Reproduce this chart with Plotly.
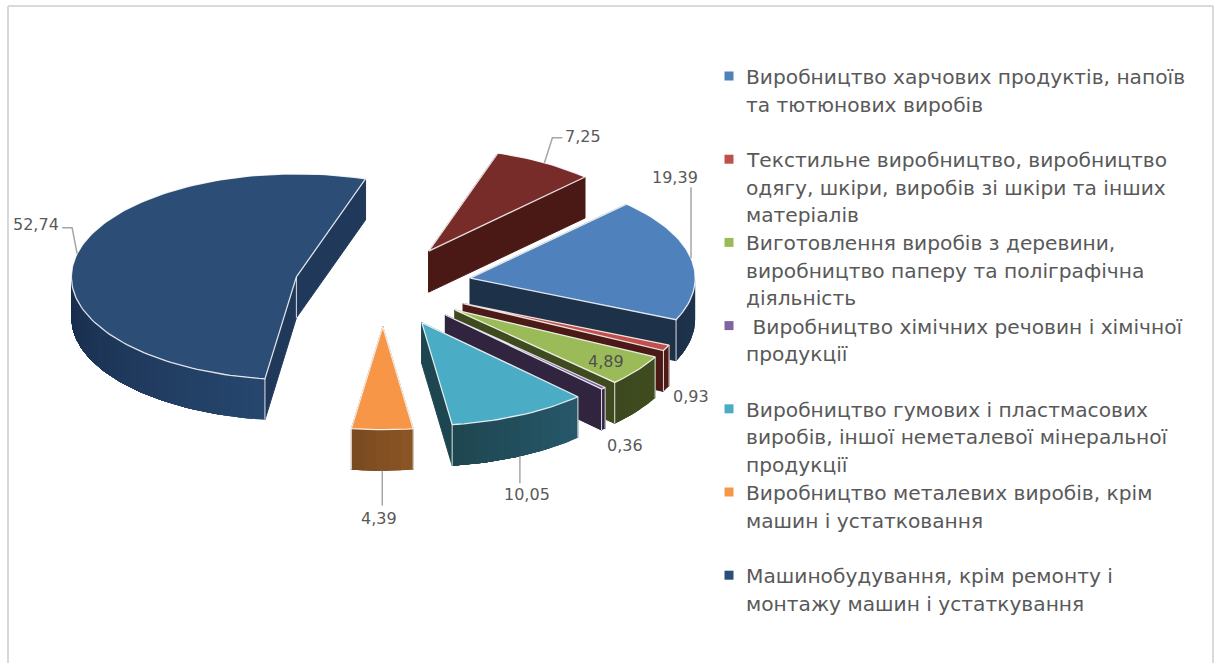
import math
import plotly.graph_objects as go

# ---- data ----
categories = [
    "Виробництво харчових продуктів, напоїв та тютюнових виробів",
    "Текстильне виробництво, виробництво одягу, шкіри, виробів зі шкіри та інших матеріалів",
    "Виготовлення виробів з деревини, виробництво паперу та поліграфічна діяльність",
    "Виробництво хімічних речовин і хімічної продукції",
    "Виробництво гумових і пластмасових виробів, іншої неметалевої мінеральної продукції",
    "Виробництво металевих виробів, крім машин і устатковання",
    "Машинобудування, крім ремонту і монтажу машин і устаткування",
    "Інше",
]
values = [19.39, 0.93, 4.89, 0.36, 10.05, 4.39, 52.74, 7.25]
legend_lines = [
    ["Виробництво харчових продуктів, напоїв", "та тютюнових виробів"],
    ["Текстильне виробництво, виробництво", "одягу, шкіри, виробів зі шкіри та інших", "матеріалів"],
    ["Виготовлення виробів з деревини,", "виробництво паперу та поліграфічна", "діяльність"],
    ["\u00a0Виробництво хімічних речовин і хімічної", "продукції"],
    ["Виробництво гумових і пластмасових", "виробів, іншої неметалевої мінеральної", "продукції"],
    ["Виробництво металевих виробів, крім", "машин і устатковання"],
    ["Машинобудування, крім ремонту і", "монтажу машин і устаткування"],
]

# ---- style ----
top_colors = ["#4f81bd", "#c0504d", "#9bbb59", "#8064a2", "#4bacc6", "#f79646", "#2c4d75", "#772c2a"]
wall_light = ["#1f3550", "#521d1a", "#404c20", "#33274a", "#27586a", "#8c5526", "#26466e", "#4a1916"]
wall_dark = ["#1c3049", "#4b1916", "#3d481e", "#30243d", "#1e4650", "#784a1f", "#182c4a", "#4a1916"]
side_colors = ["#1d3149", "#4b1916", "#3f4a1f", "#30243f", "#1e4650", "#7a4c20", "#20395a", "#4a1916"]
CX, CY, RX, RY, DEPTH, EXPLODE, START = 383.0, 286.0, 225, 103, 41, 0.395, 44
EDGE = "rgba(255,255,255,0.85)"
TEXT = "#595959"
LABEL_FONT = "DejaVu Sans"
LEGEND_FONT = "DejaVu Sans"

fig = go.Figure()


def poly(xs, ys, color, line=None, name=None, width=1):
    fig.add_trace(go.Scatter(
        x=xs, y=ys, mode="lines", fill="toself", fillcolor=color,
        line=dict(color=line or color, width=width), showlegend=False,
        hoverinfo="text" if name else "skip", text=name, name=name or "",
    ))


def mix(a, b, t):
    ca = [int(a[i:i + 2], 16) for i in (1, 3, 5)]
    cb = [int(b[i:i + 2], 16) for i in (1, 3, 5)]
    return "rgb(%d,%d,%d)" % tuple(round(p + (q - p) * t) for p, q in zip(ca, cb))


total = sum(values)
slices = []
acc = 0.0
for i, v in enumerate(values):
    a0 = START + acc / total * 360
    a1 = a0 + v / total * 360
    acc += v
    mid = math.radians((a0 + a1) / 2)
    ax = CX + RX * EXPLODE * math.sin(mid)
    ay = CY - RY * EXPLODE * math.cos(mid)
    slices.append(dict(i=i, a0=a0, a1=a1, mid=mid, ax=ax, ay=ay))


def pt(s, a):
    r = math.radians(a)
    return s["ax"] + RX * math.sin(r), s["ay"] - RY * math.cos(r)


# back to front
for s in sorted(slices, key=lambda q: -math.cos(q["mid"])):
    i = s["i"]
    ax, ay = s["ax"], s["ay"]
    # radial walls
    for a in (s["a0"], s["a1"]):
        x, y = pt(s, a)
        poly([ax, x, x, ax, ax], [ay, y, y + DEPTH, ay + DEPTH, ay], side_colors[i])
    # front part of the outer wall: each band runs to the wall's end, the next one paints over it
    for base in (0, 360):
        lo, hi = max(s["a0"], 90 + base), min(s["a1"], 270 + base)
        if hi <= lo:
            continue
        n = max(1, int((hi - lo) / 3))
        for k in range(n):
            p = lo + (hi - lo) * k / n
            m = max(2, int((hi - p) / 1.5))
            top = [pt(s, p + (hi - p) * j / m) for j in range(m + 1)]
            xs = [c[0] for c in top] + [c[0] for c in reversed(top)]
            ys = [c[1] for c in top] + [c[1] + DEPTH for c in reversed(top)]
            poly(xs, ys, mix(wall_light[i], wall_dark[i], (k + 0.5) / n), width=0)
    # vertical corner highlights
    for a in (s["a0"], s["a1"]):
        if math.cos(math.radians(a)) < 0:
            x, y = pt(s, a)
            fig.add_trace(go.Scatter(x=[x, x], y=[y, y + DEPTH], mode="lines", showlegend=False,
                                     hoverinfo="skip", line=dict(color=EDGE, width=1)))
    if s["a1"] - s["a0"] > 180:
        fig.add_trace(go.Scatter(x=[ax, ax], y=[ay, ay + DEPTH], mode="lines", showlegend=False,
                                 hoverinfo="skip", line=dict(color=EDGE, width=1)))
    # top face
    n = max(2, int((s["a1"] - s["a0"]) / 1.5))
    arc = [pt(s, s["a0"] + (s["a1"] - s["a0"]) * k / n) for k in range(n + 1)]
    poly([ax] + [c[0] for c in arc] + [ax], [ay] + [c[1] for c in arc] + [ay], top_colors[i],
         line=EDGE, name=f"{categories[i]}: {values[i]}", width=1.3)

# data labels and leader lines: offsets from the middle of each slice's outer edge
label_pos = {0: (675, 177), 1: (691, 396), 2: (606, 361), 3: (625, 445),
             4: (527, 494), 5: (379, 518), 6: (36, 224), 7: (583, 136)}
leader_offsets = {0: [(0, 0), (0, -71)], 4: [(0, 0), (0, 27)], 5: [(0, 0), (0, 35)],
                  6: [(0, 0), (-5, -26), (-15, -26)], 7: [(0, 0), (8, -25), (18, -25)]}
for i, off in leader_offsets.items():
    s = slices[i]
    x0, y0 = pt(s, math.degrees(s["mid"]))
    if math.cos(s["mid"]) < 0:
        y0 += DEPTH
    fig.add_trace(go.Scatter(x=[x0 + o[0] for o in off], y=[y0 + o[1] for o in off], mode="lines",
                             showlegend=False, hoverinfo="skip", line=dict(color="#a6a6a6", width=1.5)))

ann = []
for i, v in enumerate(values):
    x, y = label_pos[i]
    ann.append(dict(x=x, y=y, xref="x", yref="y", showarrow=False,
                    text=f"{v:.2f}".replace(".", ","),
                    font=dict(family=LABEL_FONT, size=16, color="#505050" if i == 2 else TEXT)))

# legend
LEG_TOP, LEG_STEP, LINE_H = 77, 83.2, 27.5
for e, lines in enumerate(legend_lines):
    y0 = LEG_TOP + e * LEG_STEP
    fig.add_trace(go.Scatter(x=[729], y=[y0 - 1], mode="markers", showlegend=False,
                             name=categories[e], hoverinfo="name",
                             marker=dict(symbol="square", size=9, color=top_colors[e])))
    for j, line in enumerate(lines):
        ann.append(dict(x=743.5, y=y0 + j * LINE_H, xref="x", yref="y", xanchor="left", yanchor="middle",
                        showarrow=False, text=line, font=dict(family=LEGEND_FONT, size=20.2, color=TEXT)))

frame = [(8, 663, 8, 6), (8, 6, 1213, 6), (1213, 6, 1213, 663)]
shapes = [dict(type="line", xref="x", yref="y", x0=a, y0=b, x1=c, y1=d,
               line=dict(color="#d9d9d9", width=2), layer="below") for a, b, c, d in frame]

fig.update_layout(
    width=1216, height=663, margin=dict(l=0, r=0, t=0, b=0), autosize=False,
    paper_bgcolor="white", plot_bgcolor="white", showlegend=False,
    xaxis=dict(range=[0, 1216], visible=False, fixedrange=True),
    yaxis=dict(range=[663, 0], visible=False, fixedrange=True),
    annotations=ann, shapes=shapes,
)
fig.write_html("out.html", config=dict(displayModeBar=False),
               post_script="document.body.style.margin='0';document.documentElement.style.overflow='hidden';")
